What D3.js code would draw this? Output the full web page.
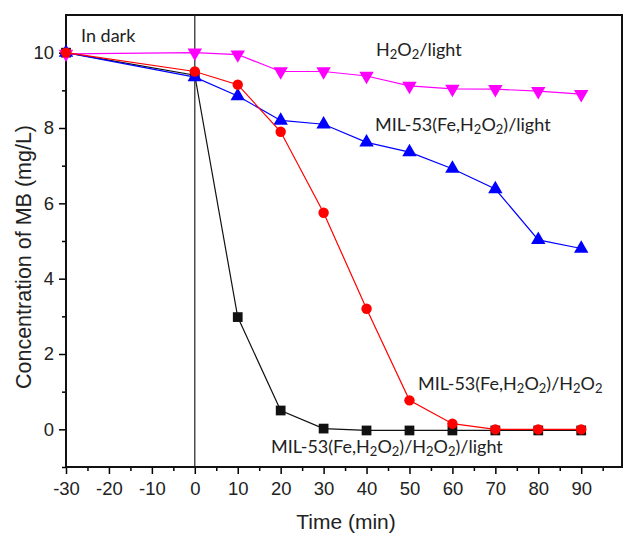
<!DOCTYPE html>
<html>
<head>
<meta charset="utf-8">
<script src="https://cdn.jsdelivr.net/npm/d3@7"></script>
<style>
body { margin: 0; background: #fff; }
text { font-family: "Liberation Sans", Arial, sans-serif; }
.lbl { font-family: Lato, "Open Sans", sans-serif; font-size: 18px; fill: #222; }
</style>
</head>
<body>
<script>
// time points (min)
var time = [-30, 0, 10, 20, 30, 40, 50, 60, 70, 80, 90]
// MB concentration (mg/L) for each condition
var lightCat = [10, 9.4, 2.98, 0.5, 0.02, -0.03, -0.03, -0.03, -0.03, -0.03, -0.03]
var h2o2Cat = [10, 9.5, 9.15, 7.9, 5.75, 3.2, 0.77, 0.15, 0, 0, 0]
var catLight = [10, 9.35, 8.85, 8.2, 8.1, 7.62, 7.36, 6.92, 6.38, 5.03, 4.8]
var h2o2Light = [9.97, 10, 9.95, 9.5, 9.5, 9.38, 9.12, 9.04, 9.03, 8.98, 8.9]
var xTicks = [-30, -20, -10, 0, 10, 20, 30, 40, 50, 60, 70, 80, 90]
var yTicks = [0, 2, 4, 6, 8, 10]

var margin = {top: 15, right: 2, bottom: 69, left: 66}
var width = 624 - margin.left - margin.right
var height = 536 - margin.top - margin.bottom

var svg = d3.select("body").append("svg").attr("width", 624).attr("height", 536)
var main = svg.append("g").attr("transform", "translate(" + margin.left + "," + margin.top + ")")

var x = d3.scaleLinear().domain([-30, 99.5]).range([0, width])
var y = d3.scaleLinear().domain([-1, 11]).range([height, 0])

// minor ticks
main.append("g").attr("transform", "translate(0," + height + ")")
    .call(d3.axisBottom(x).tickValues(d3.range(-25, 100, 10)).tickSize(4).tickFormat(""))
    .call(g => g.select(".domain").remove())
    .selectAll("line").attr("stroke-width", 1.5)
main.append("g")
    .call(d3.axisLeft(y).tickValues([-1, 1, 3, 5, 7, 9]).tickSize(4).tickFormat(""))
    .call(g => g.select(".domain").remove())
    .selectAll("line").attr("stroke-width", 1.5)

// major ticks (plain hyphen for negatives, like the original)
var xa = main.append("g").attr("transform", "translate(0," + height + ")")
    .call(d3.axisBottom(x).tickValues(xTicks).tickSize(7).tickPadding(8).tickFormat(d => String(d)))
xa.select(".domain").remove()
xa.selectAll("line").attr("stroke-width", 1.5)
xa.selectAll("text").attr("font-size", 18.5).attr("fill", "#222").attr("font-family", "Liberation Sans, Arial, sans-serif")
var ya = main.append("g")
    .call(d3.axisLeft(y).tickValues(yTicks).tickSize(7).tickPadding(5))
ya.select(".domain").remove()
ya.selectAll("line").attr("stroke-width", 1.5)
ya.selectAll("text").attr("font-size", 18.5).attr("fill", "#222").attr("font-family", "Liberation Sans, Arial, sans-serif")

// frame
main.append("rect").attr("width", width).attr("height", height)
    .attr("fill", "none").attr("stroke", "#111").attr("stroke-width", 2)

// dark / light divider
main.append("line").attr("x1", x(0)).attr("x2", x(0)).attr("y1", 0).attr("y2", height)
    .attr("stroke", "#222").attr("stroke-width", 1.2)

var line = d3.line().x((d, i) => x(time[i])).y(d => y(d))

function series(vals, color, shape, size, flip) {
    main.append("path").datum(vals).attr("d", line)
        .attr("fill", "none").attr("stroke", color).attr("stroke-width", 1.2)
    var sym = d3.symbol().type(shape).size(size)
    main.append("g").selectAll("path").data(vals).enter().append("path")
        .attr("d", sym)
        .attr("transform", (d, i) => "translate(" + x(time[i]) + "," + y(d) + ")" + (flip ? " rotate(180)" : ""))
        .attr("fill", color)
}

series(lightCat, "#111", d3.symbolSquare, 95)
series(catLight, "#0000ff", d3.symbolTriangle, 90)
series(h2o2Light, "#ff00ff", d3.symbolTriangle, 90, true)
series(h2o2Cat, "#ff0000", d3.symbolCircle, 85)

// labels; parts flagged 1 are subscripts
function label(px, py, parts) {
    var t = svg.append("text").attr("class", "lbl").attr("x", px).attr("y", py)
    var shifted = false
    parts.forEach(function(p) {
        var s = t.append("tspan").text(p[0])
        if (p[1]) {
            s.attr("font-size", 13).attr("dy", shifted ? 0 : 3)
            shifted = true
        } else {
            s.attr("dy", shifted ? -3 : 0)
            shifted = false
        }
    })
}
label(81, 42, [["In dark"]])
label(376, 56, [["H"], ["2", 1], ["O"], ["2", 1], ["/light"]])
label(375, 131, [["MIL-53(Fe,H"], ["2", 1], ["O"], ["2", 1], [")/light"]])
label(418, 390, [["MIL-53(Fe,H"], ["2", 1], ["O"], ["2", 1], [")/H"], ["2", 1], ["O"], ["2", 1]])
label(271, 453, [["MIL-53(Fe,H"], ["2", 1], ["O"], ["2", 1], [")/H"], ["2", 1], ["O"], ["2", 1], [")/light"]])

// axis titles
svg.append("text").attr("x", 346).attr("y", 529).attr("text-anchor", "middle")
    .attr("font-size", 21).attr("fill", "#222").text("Time (min)")
svg.append("text").attr("transform", "translate(31,257) rotate(-90)")
    .attr("text-anchor", "middle").attr("font-size", 21.5).attr("fill", "#222").text("Concentration of MB (mg/L)")
</script>
</body>
</html>
